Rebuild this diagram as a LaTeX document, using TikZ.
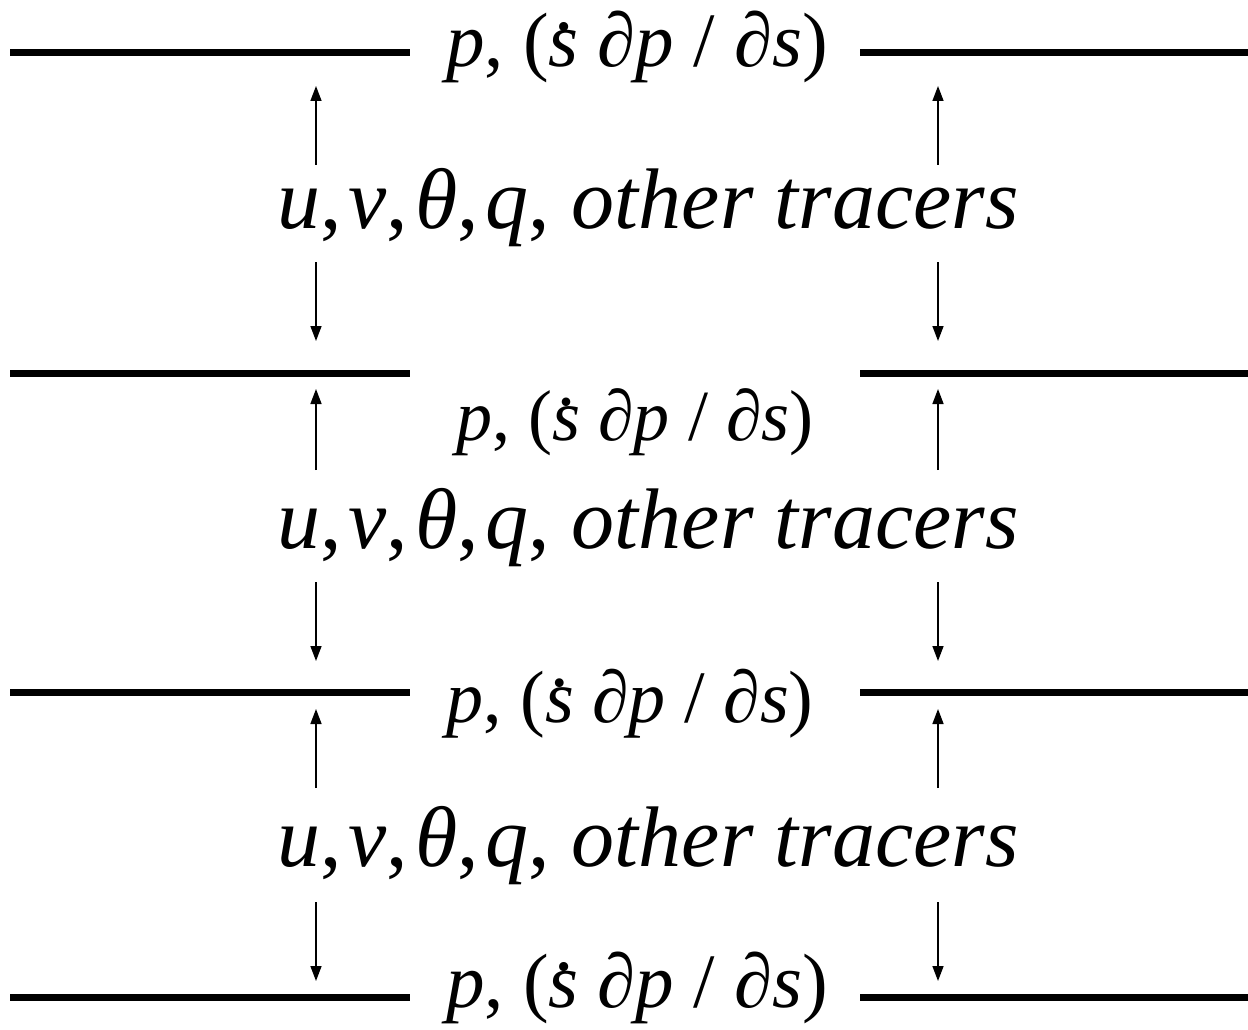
\documentclass[tikz,border=0pt]{standalone}
\usepackage{fontspec}
\newfontfamily\tfont{Liberation Serif}
\usetikzlibrary{arrows.meta}
\newcommand{\sdt}{\ooalign{\itshape s\cr\hidewidth\raisebox{0.48em}{\upshape.}\hidewidth\cr}}
\newcommand{\plabel}{\textit{p}, (\sdt\ \textit{∂p} / \textit{∂s})}
\newcommand{\csp}{\hspace{0.08em}}
\newcommand{\vlabel}{\textit{u},\csp\textit{v},\csp\textit{θ},\csp\textit{q}, \textit{other tracers}}
\begin{document}
\begin{tikzpicture}[x=1pt,y=-1pt,
  level/.style={line width=7pt},
  flux/.style={line width=1.5pt,-{Triangle[width=11pt,length=15pt]}},
  plab/.style={anchor=base,inner sep=0pt},
  vlab/.style={anchor=base,inner sep=0pt,font=\tfont\fontsize{86}{90}\selectfont}]
\useasboundingbox (0,0) rectangle (1248,1030);
% level lines
\foreach \n/\y in {a/53,b/373,c/692,d/997}{
  \coordinate (\n L1) at (10,\y); \coordinate (\n L2) at (410,\y);
  \coordinate (\n R1) at (860,\y); \coordinate (\n R2) at (1248,\y);
  \draw[level] (\n L1) -- (\n L2);
  \draw[level] (\n R1) -- (\n R2);
}
% pressure labels
\node[plab,font=\tfont\fontsize{77}{80}\selectfont] (p1) at (637,67) {\plabel};
\node[plab,font=\tfont\fontsize{72}{76}\selectfont] (p2) at (635,440) {\plabel};
\node[plab,font=\tfont\fontsize{74}{78}\selectfont] (p3) at (630,722) {\plabel};
\node[plab,font=\tfont\fontsize{77}{80}\selectfont] (p4) at (637,1007) {\plabel};
% variable labels
\node[vlab] (v1) at (648,228) {\vlabel};
\node[vlab] (v2) at (648,548) {\vlabel};
\node[vlab] (v3) at (648,866) {\vlabel};
% arrows
\foreach \x/\s in {316/l,938/r}{
  \foreach \i/\ua/\ub/\da/\db in {1/165/86/262/341,2/470/389/582/661,3/788/709/902/981}{
    \coordinate (u\s\i a) at (\x,\ua); \coordinate (u\s\i b) at (\x,\ub);
    \coordinate (d\s\i a) at (\x,\da); \coordinate (d\s\i b) at (\x,\db);
    \draw[flux] (u\s\i a) -- (u\s\i b);
    \draw[flux] (d\s\i a) -- (d\s\i b);
  }
}
\end{tikzpicture}
\end{document}
